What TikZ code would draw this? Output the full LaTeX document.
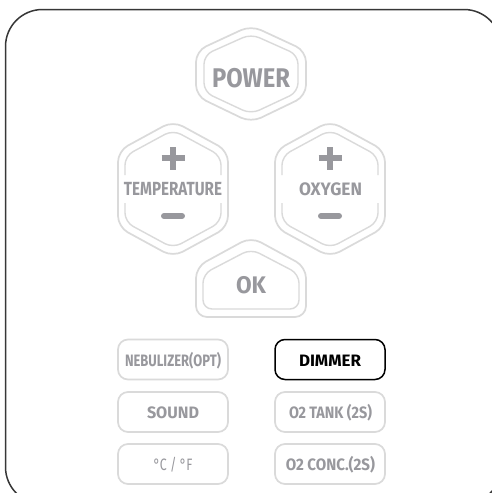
\documentclass[tikz,border=0pt]{standalone}
\usepackage{fontspec}
\usepackage{graphicx}
\newfontfamily\btnfont{Fira Sans}
\definecolor{rim}{RGB}{218,218,218}
\definecolor{ink}{RGB}{152,152,157}
\definecolor{framec}{RGB}{55,55,55}
\newcommand\fitw[2]{\resizebox{#1}{\height}{#2}}
\tikzset{
  framebox/.style={draw=framec, line width=1.5pt, rounded corners=37pt},
  rimline/.style={draw=rim, line width=1.7pt, rounded corners=11pt},
  innerline/.style={draw=rim, line width=1.4pt, rounded corners=9pt},
  lbl/.style={text=ink, font=\btnfont\bfseries, inner sep=0pt, anchor=base},
  keybox/.style={draw=rim, line width=1.7pt, rounded corners=10pt, minimum width=110pt, minimum height=40pt, inner sep=0pt},
  darkbox/.style={keybox, draw=black, line width=1.5pt},
  pmbar/.style={draw=ink, line width=6.5pt, line cap=round}
}
\begin{document}
\begin{tikzpicture}[x=1pt,y=-1pt]
\clip (0,0) rectangle (492,493);
\fill[white] (0,0) rectangle (492,493);
\draw[framebox] (5.5,9.5) rectangle (501,504);

% POWER
\begin{scope}[shift={(251,74)}]
  \draw[rimline] (0,-48.5) -- (55,-23) -- (55,22) -- (0,48.5) -- (-55,22) -- (-55,-23) -- cycle;
  \draw[innerline] (0,-40) -- (47,-19) -- (47,18) -- (0,40) -- (-47,18) -- (-47,-19) -- cycle;
\end{scope}
\node[lbl, font=\btnfont\bfseries\fontsize{27}{27}\selectfont] (power) at (251,87) {\fitw{78pt}{POWER}};

% TEMPERATURE and OXYGEN
\foreach \cx/\nm in {173/temp, 330/oxy}{
  \begin{scope}[shift={(\cx,189)}]
    \draw[rimline] (0,-68) -- (55,-38) -- (55,38) -- (0,68) -- (-55,38) -- (-55,-38) -- cycle;
    \draw[innerline] (-48,-14) -- (-48,-33) -- (0,-59) -- (48,-33) -- (48,-14);
    \draw[innerline] (-48,14) -- (-48,33) -- (0,59) -- (48,33) -- (48,14);
    \coordinate (\nm-plus) at (0,-31);
    \coordinate (\nm-minus) at (0,27);
  \end{scope}
  \draw[pmbar, line cap=butt] ([xshift=-11.5pt]\nm-plus) -- ([xshift=11.5pt]\nm-plus);
  \draw[pmbar, line cap=butt] ([yshift=-11.5pt]\nm-plus) -- ([yshift=11.5pt]\nm-plus);
  \draw[pmbar, line width=6pt] ([xshift=-9pt]\nm-minus) -- ([xshift=9pt]\nm-minus);
}
\node[lbl, font=\btnfont\bfseries\fontsize{19}{19}\selectfont] (temperature) at (173,195) {\fitw{98pt}{TEMPERATURE}};
\node[lbl, font=\btnfont\bfseries\fontsize{18}{18}\selectfont] (oxygen) at (330.5,195) {\fitw{63pt}{OXYGEN}};

% OK
\draw[rimline] (251,237) -- (306,267) -- (306,317) -- (196,317) -- (196,267) -- cycle;
\draw[innerline] (251,249) -- (299,274) -- (299,309) -- (203,309) -- (203,274) -- cycle;
\node[lbl, font=\btnfont\bfseries\fontsize{24}{24}\selectfont] (ok) at (251,293) {\fitw{30pt}{OK}};

% small keys
\node[keybox] (nebbox) at (173,359.5) {};
\node[darkbox] (dimbox) at (330,359.5) {};
\node[keybox] (soundbox) at (173,412) {};
\node[keybox] (tankbox) at (330,412) {};
\node[keybox] (unitbox) at (173,464) {};
\node[keybox] (concbox) at (330,464) {};

\node[lbl, font=\btnfont\bfseries\fontsize{16.5}{16.5}\selectfont] (neb) at (173,366.5) {\fitw{96pt}{NEBULIZER(OPT)}};
\node[lbl, text=black, font=\btnfont\bfseries\fontsize{16.5}{16.5}\selectfont] (dim) at (330,366.5) {\fitw{62pt}{DIMMER}};
\node[lbl, font=\btnfont\bfseries\fontsize{16.5}{16.5}\selectfont] (sound) at (173,418.5) {\fitw{52pt}{SOUND}};
\node[lbl, font=\btnfont\bfseries\fontsize{16.5}{16.5}\selectfont] (tank) at (330.5,418.5) {\fitw{83pt}{O2 TANK (2S)}};
\node[lbl, font=\btnfont\fontsize{16.5}{16.5}\selectfont] (unit) at (173,470.5) {\fitw{39pt}{°C / °F}};
\node[lbl, font=\btnfont\bfseries\fontsize{16.5}{16.5}\selectfont] (conc) at (330.5,470.5) {\fitw{89pt}{O2 CONC.(2S)}};
\end{tikzpicture}
\end{document}
